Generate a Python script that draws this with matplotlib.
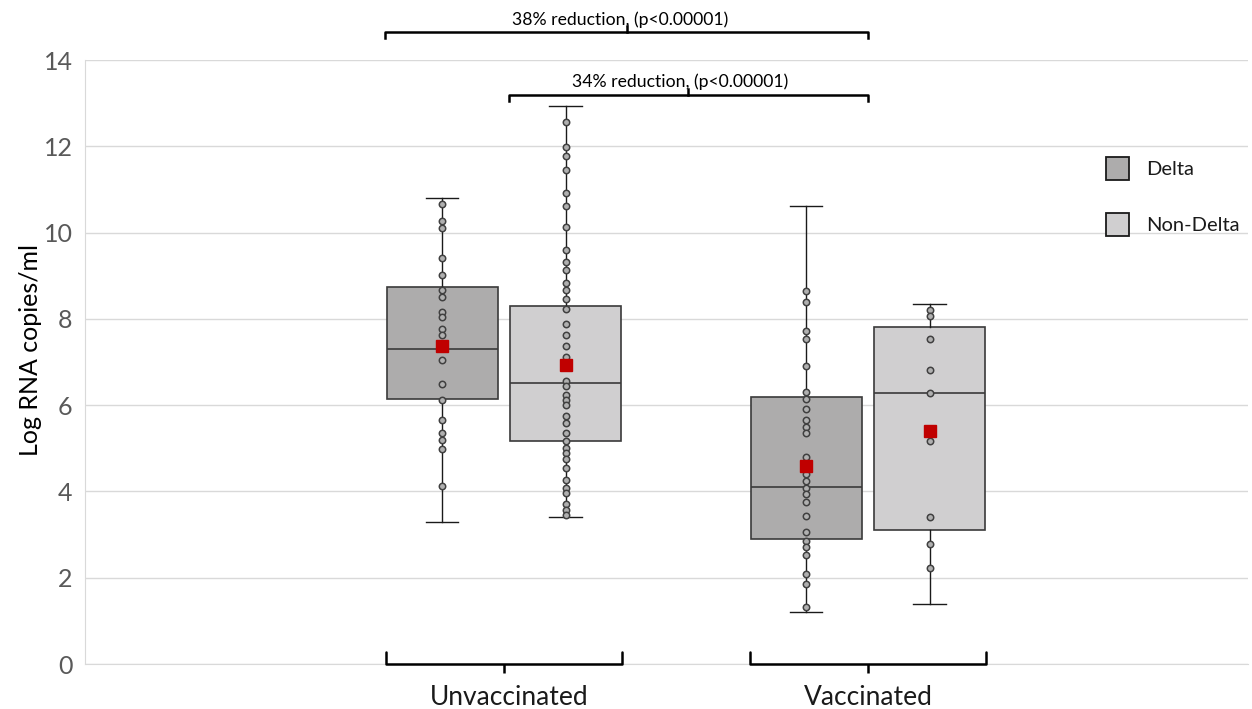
import matplotlib
matplotlib.use("Agg")
import matplotlib.pyplot as plt
from matplotlib.patches import Patch
import matplotlib.transforms as mtransforms
import numpy as np

plt.rcParams['font.family'] = ['Lato', 'DejaVu Sans']

# ---------------- data ----------------
groups = ["Unvaccinated", "Vaccinated"]
variants = ["Delta", "Non-Delta"]

# box statistics: [Unvacc-Delta, Unvacc-NonDelta, Vacc-Delta, Vacc-NonDelta]
whislo = [3.28, 3.41, 1.20, 1.40]
q1 = [6.14, 5.18, 2.89, 3.10]
med = [7.30, 6.51, 4.10, 6.29]
q3 = [8.74, 8.30, 6.19, 7.80]
whishi = [10.79, 12.93, 10.62, 8.34]
means = [7.36, 6.93, 4.58, 5.39]

pts_unvacc_delta = [10.66, 10.27, 10.10, 9.41, 9.02, 8.68, 8.50, 8.17, 8.05, 7.77,
                    7.63, 7.05, 6.50, 6.13, 5.66, 5.35, 5.19, 4.98, 4.12]
pts_unvacc_nondelta = [12.56, 11.99, 11.78, 11.45, 10.91, 10.62, 10.12, 9.59, 9.32,
                       9.13, 8.84, 8.67, 8.47, 8.22, 7.87, 7.63, 7.38, 7.12, 6.57,
                       6.44, 6.24, 6.12, 6.00, 5.75, 5.59, 5.36, 5.17, 5.01, 4.88,
                       4.75, 4.54, 4.27, 4.08, 3.96, 3.70, 3.57, 3.45]
pts_vacc_delta = [8.64, 8.38, 7.73, 7.53, 6.91, 6.31, 6.14, 5.90, 5.65, 5.50, 5.35,
                  4.79, 4.40, 4.25, 4.07, 3.94, 3.75, 3.42, 3.05, 2.86, 2.71, 2.53,
                  2.08, 1.85, 1.33]
pts_vacc_nondelta = [8.21, 8.07, 7.53, 6.81, 6.28, 5.17, 3.41, 2.78, 2.23]

annot_texts = ["38% reduction, (p<0.00001)", "34% reduction, (p<0.00001)"]
yticks = [0, 2, 4, 6, 8, 10, 12, 14]

# ---------------- figure ----------------
fig = plt.figure(figsize=(12.52, 7.09), dpi=100)
ax = fig.add_axes([85 / 1252, 45 / 709, 1163 / 1252, 604 / 709])

colors = ["#adacac", "#d0cfd0"]
offset = 0.17
positions = [0 - offset, 0 + offset, 1 - offset, 1 + offset]
box_colors = [colors[0], colors[1], colors[0], colors[1]]

stats = []
for i in range(4):
    stats.append(dict(med=med[i], q1=q1[i], q3=q3[i], whislo=whislo[i],
                      whishi=whishi[i], mean=means[i], fliers=[]))

bp = ax.bxp(stats, positions=positions, widths=0.305, patch_artist=True,
            showmeans=True, showfliers=False, capwidths=0.09,
            boxprops=dict(edgecolor="#3a3a3a", linewidth=1.2),
            medianprops=dict(color="#3a3a3a", linewidth=1.2),
            whiskerprops=dict(color="#1a1a1a", linewidth=1.0),
            capprops=dict(color="#1a1a1a", linewidth=1.0),
            meanprops=dict(marker="s", markerfacecolor="#c00000",
                           markeredgecolor="#c00000", markersize=8),
            zorder=2)
for patch, c in zip(bp["boxes"], box_colors):
    patch.set_facecolor(c)

all_pts = [pts_unvacc_delta, pts_unvacc_nondelta, pts_vacc_delta, pts_vacc_nondelta]
for p, pts in zip(positions, all_pts):
    ax.plot(np.full(len(pts), p), pts, linestyle="none", marker="o",
            markersize=4.6, markerfacecolor="#b0b0b0", markeredgecolor="#404040",
            markeredgewidth=1.1, zorder=3)
for m in bp["means"]:
    m.set_zorder(4)

ax.set_xlim(-1.151, 2.044)
ax.set_ylim(0, 14)
ax.set_yticks(yticks)
ax.set_yticklabels([str(v) for v in yticks])
ax.tick_params(axis="y", length=0, labelsize=18, labelcolor="#595959", pad=9)
ax.set_xticks([0, 1])
ax.set_xticklabels(groups)
ax.tick_params(axis="x", length=0, labelsize=19, labelcolor="#1a1a1a", pad=15)
shift = mtransforms.ScaledTranslation(5 / 100, 0, fig.dpi_scale_trans)
xlabels = ax.get_xticklabels()
xlabels[0].set_transform(xlabels[0].get_transform() + shift)
ax.grid(axis="y", color="#d9d9d9", linewidth=1.0)
ax.set_axisbelow(True)
for s in ["top", "right"]:
    ax.spines[s].set_visible(False)
ax.spines["left"].set_color("#d9d9d9")
ax.spines["bottom"].set_color("#d9d9d9")
ax.set_ylabel("Log RNA copies/ml", fontsize=18, color="#000000")
ax.yaxis.set_label_coords(-0.037, 0.52)

# brackets below groups
for g in [0, 1]:
    xs = [g - 0.324, g - 0.324, g + 0.324, g + 0.324]
    ys = [0.28, 0.0, 0.0, 0.28]
    ax.plot(xs, ys, color="#000000", linewidth=1.8, clip_on=False,
            solid_capstyle="round", solid_joinstyle="round", zorder=5)
    ax.plot([g, g], [0.0, -0.2], color="#000000", linewidth=1.8, clip_on=False,
            solid_capstyle="butt", zorder=5)

# significance brackets on top
def top_bracket(x0, x1, xc, y, drop, rise, text, ty):
    ax.plot([x0, x0, x1, x1], [y - drop, y, y, y - drop], color="#000000",
            linewidth=1.8, clip_on=False, solid_joinstyle="round", zorder=5)
    ax.plot([xc, xc], [y, y + rise], color="#000000", linewidth=1.8,
            clip_on=False, zorder=5)
    ax.text(xc - 0.02, ty, text, ha="center", va="center", fontsize=12.7,
            color="#000000", clip_on=False)

top_bracket(-0.327, 1.0, 0.338, 14.66, 0.16, 0.12, annot_texts[0], 14.93)
top_bracket(0.014, 1.0, 0.505, 13.19, 0.13, 0.14, annot_texts[1], 13.50)

# legend
handles = [Patch(facecolor=colors[0], edgecolor="#1a1a1a", linewidth=1.3),
           Patch(facecolor=colors[1], edgecolor="#1a1a1a", linewidth=1.3)]
ax.legend(handles, variants, loc="upper left", bbox_to_anchor=(0.862, 0.87),
          frameon=False, fontsize=14.5, handlelength=1.15, handleheight=1.4,
          labelspacing=1.62, handletextpad=0.85, labelcolor="#1a1a1a")

fig.savefig("out.png", dpi=100)
